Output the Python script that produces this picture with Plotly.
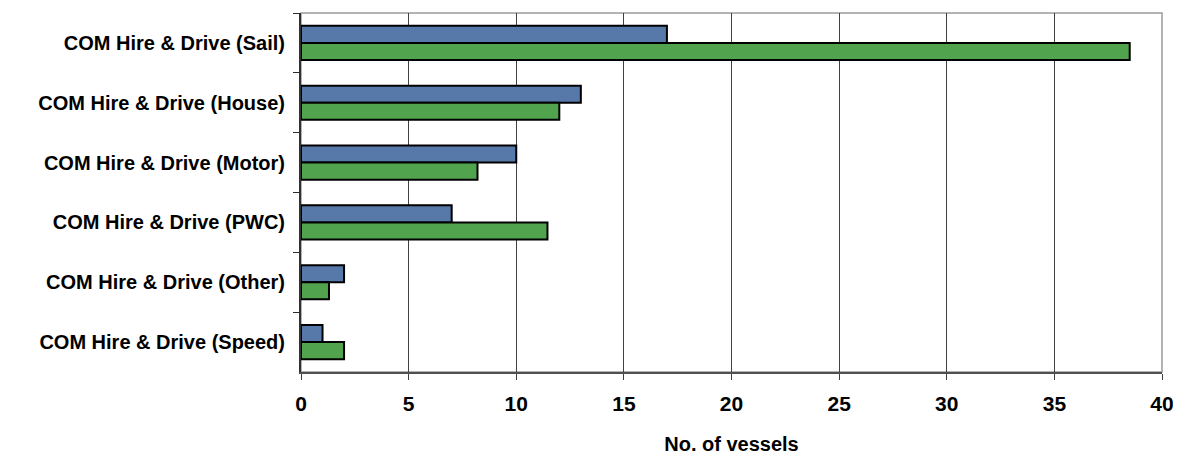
import plotly.graph_objects as go

categories = [
    "COM Hire & Drive (Sail)",
    "COM Hire & Drive (House)",
    "COM Hire & Drive (Motor)",
    "COM Hire & Drive (PWC)",
    "COM Hire & Drive (Other)",
    "COM Hire & Drive (Speed)",
]
series_blue = [17, 13, 10, 7, 2, 1]
series_green = [38.5, 12, 8.2, 11.45, 1.3, 2]
x_ticks = [0, 5, 10, 15, 20, 25, 30, 35, 40]
x_title = "No. of vessels"

FONT = "Liberation Sans, Arial, sans-serif"

fig = go.Figure()
fig.add_trace(go.Bar(
    y=categories, x=series_blue, orientation="h",
    marker=dict(color="#5679A9", line=dict(color="#000000", width=2)),
    showlegend=False,
))
fig.add_trace(go.Bar(
    y=categories, x=series_green, orientation="h",
    marker=dict(color="#52A34D", line=dict(color="#000000", width=2)),
    showlegend=False,
))

fig.update_layout(
    width=1173, height=447,
    margin=dict(l=293, r=19, t=5, b=83, autoexpand=False),
    barmode="group", bargap=0.43, bargroupgap=0,
    plot_bgcolor="white", paper_bgcolor="white",
    font=dict(family=FONT, color="#000000"),
    shapes=[dict(type="rect", xref="paper", yref="paper", x0=0, x1=1, y0=0, y1=1,
                 line=dict(color="#9a9a9a", width=1.5), layer="below")],
)
fig.update_xaxes(
    range=[0, 40], tickvals=x_ticks, ticktext=[str(t) for t in x_ticks],
    showgrid=True, gridcolor="#404040", gridwidth=1,
    showline=True, linecolor="#505050", linewidth=2,
    ticks="outside", ticklen=6, tickcolor="#404040",
    tickfont=dict(family=FONT, size=21, color="#000000", weight="bold"),
    ticklabelstandoff=6,
    title=dict(text="<b>" + x_title + "</b>", font=dict(family=FONT, size=20), standoff=27),
    zeroline=False,
)
fig.update_yaxes(
    autorange="reversed", type="category",
    showline=True, linecolor="#303030", linewidth=2,
    ticks="outside", ticklen=6, tickcolor="#303030", tickson="boundaries",
    tickfont=dict(family=FONT, size=20, color="#000000", weight="bold"),
    ticklabelstandoff=10,
    showgrid=False,
)

fig.write_html("out.html")
